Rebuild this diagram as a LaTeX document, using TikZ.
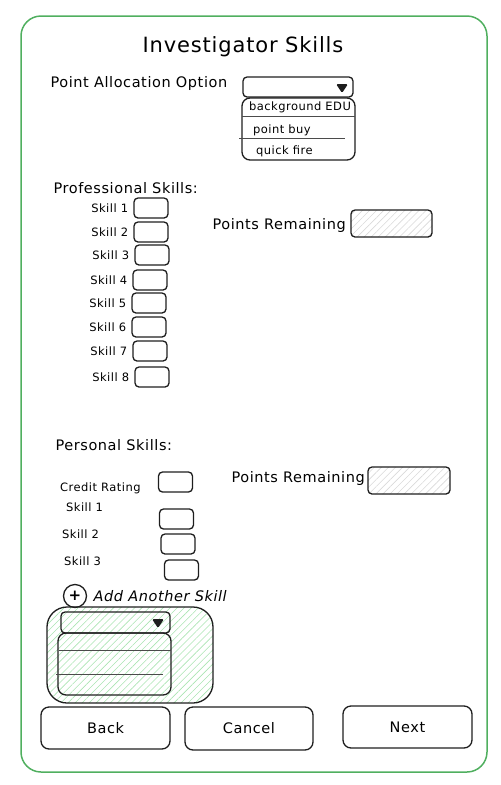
\documentclass[tikz,border=0pt]{standalone}
\usepackage{fontspec}
\setmainfont[LetterSpace=4]{DejaVu Sans}
\usetikzlibrary{positioning, calc, patterns.meta}
\definecolor{framegreen}{RGB}{80,175,95}
\definecolor{hatchgreen}{RGB}{170,228,178}
\definecolor{ink}{RGB}{30,30,30}
\newcommand{\ddarrow}[1]{\fill[ink, rounded corners=1.5pt] ($(#1)+(-6,-4)$) -- ($(#1)+(6,-4)$) -- ($(#1)+(0,5)$) -- cycle;}

\begin{document}
\begin{tikzpicture}[x=1pt,y=-1pt,
        frame/.style={draw=framegreen, line width=1.5pt, rounded corners=20pt, minimum width=466pt, minimum height=756pt},
        field/.style={draw=ink, line width=1.3pt, rounded corners=4pt, minimum width=34pt, minimum height=20pt, inner sep=0pt},
        hatched/.style={field, minimum width=81pt, minimum height=27pt, pattern={Lines[angle=45,distance=5pt,line width=0.6pt]}, pattern color=black!15},
        dropbox/.style={field, minimum width=110pt, minimum height=20pt},
        listbox/.style={field, rounded corners=8pt, minimum width=113pt, minimum height=62pt},
        btn/.style={draw=ink, line width=1.3pt, rounded corners=8pt, minimum width=129pt, minimum height=42pt, font=\fontsize{14.5}{16}\selectfont},
        head/.style={anchor=west, font=\fontsize{14.5}{16}\selectfont},
        small/.style={font=\fontsize{11.5}{13}\selectfont, inner sep=0pt},
        sep/.style={draw=ink!80, line width=1.6pt}]
    \useasboundingbox (0,0) rectangle (501,785);
    \node[frame] (frame) at (254,394) {};
    \node[font=\fontsize{21}{24}\selectfont] (title) at (243,47) {Investigator Skills};

    % point allocation
    \node[head] (alloc) at (47,83) {Point Allocation Option};
    \node[dropbox] (dd) at (298,87) {};
    \ddarrow{342,88}
    \node[listbox] (ddlist) at (298.5,129) {};
    \node[small, anchor=west] (opt1) at (249,107) {background EDU};
    \node[small, anchor=west] (opt2) at (253,130) {point buy};
    \node[small, anchor=west] (opt3) at (256,151) {quick fire};
    \draw[sep] ($(ddlist.north west)+(1,19)$) -- ($(ddlist.north east)+(-1,19)$);
    \draw[sep] ($(ddlist.north west)+(-2,41)$) -- ($(ddlist.north east)+(-11,41)$);

    % professional skills
    \node[head] (prof) at (50,188) {Professional Skills:};
    \foreach \i/\x/\y in {1/151/208, 2/151/232, 3/152/255, 4/150/280, 5/149/303, 6/149/327, 7/150/351, 8/152/377} {
        \node[field] (ps\i) at (\x,\y) {};
        \node[small, left=5pt of ps\i] (psl\i) {Skill \i};
    }
    \node[head] (prem1) at (209,225) {Points Remaining};
    \node[hatched] (prbox1) at (391.5,223.5) {};

    % personal skills
    \node[head] (pers) at (52,445) {Personal Skills:};
    \node[small, anchor=west] (crl) at (60,488) {Credit Rating};
    \node[field] (cr) at (175.5,482) {};
    \node[head] (prem2) at (228,478) {Points Remaining};
    \node[hatched, minimum width=82pt] (prbox2) at (409,480.5) {};
    \foreach \i/\lx/\ly/\x/\y in {1/66/507/176.5/519, 2/62/534/178/544, 3/64/561/181.5/570} {
        \node[small, anchor=west] (pl\i) at (\lx,\ly) {Skill \i};
        \node[field] (pf\i) at (\x,\y) {};
    }

    % add another skill
    \node[draw=ink, circle, line width=1.3pt, minimum size=23pt, inner sep=0pt, font=\bfseries\fontsize{15}{15}\selectfont] (addbtn) at (75,596) {+};
    \node[head, font=\itshape\fontsize{14.5}{16}\selectfont, right=3pt of addbtn] (addtxt) {Add Another Skill};
    \node[draw=ink, line width=1.3pt, rounded corners=20pt, minimum width=166pt, minimum height=96pt,
        pattern={Lines[angle=45,distance=5pt,line width=0.6pt]}, pattern color=hatchgreen] (grp) at (130,655) {};
    \node[dropbox, minimum width=109pt, minimum height=21pt] (dd2) at (115.5,622.5) {};
    \ddarrow{158,623}
    \node[listbox] (ddlist2) at (114.5,664) {};
    \draw[sep] ($(ddlist2.north west)+(2,18)$) -- ($(ddlist2.north east)+(-1,18)$);
    \draw[sep] ($(ddlist2.north west)+(-1,42)$) -- ($(ddlist2.north east)+(-9,42)$);

    % buttons
    \node[btn] (back) at (105.5,728) {Back};
    \node[btn, minimum width=128pt, minimum height=43pt] (cancel) at (249,728.5) {Cancel};
    \node[btn] (next) at (407.5,727) {Next};
\end{tikzpicture}
\end{document}
